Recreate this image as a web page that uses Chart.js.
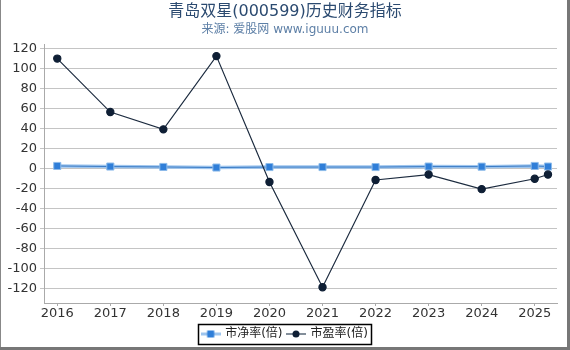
<!DOCTYPE html>
<html>
<head>
<meta charset="utf-8">
<script src="https://cdn.jsdelivr.net/npm/chart.js@4"></script>
<style>
  body { margin: 0; background: #fff; }
  #wrap { position: relative; width: 570px; height: 350px; }
  #wrap canvas { position: absolute; left: 0; top: 0; }
  .edge { position: absolute; background: #777; }
</style>
</head>
<body>
<div id="wrap">
  <canvas id="myChart" width="570" height="350"></canvas>
  <div class="edge" style="left:0;top:0;width:1px;height:350px;background:#888"></div>
  <div class="edge" style="right:0;top:0;width:3px;height:350px"></div>
  <div class="edge" style="left:0;bottom:0;width:570px;height:3px"></div>
</div>
<script>
// 数据
const years = [2016, 2017, 2018, 2019, 2020, 2021, 2022, 2023, 2024, 2025, 2025.25];
const pbValues = [2.6, 2.0, 1.6, 1.0, 1.5, 1.5, 1.5, 2.0, 1.9, 2.6, 2.0];
const peValues = [110, 56.5, 39.2, 112.5, -13.4, -118.7, -11.4, -6.0, -20.6, -10.2, -6.0];
const yTicks = [120, 100, 80, 60, 40, 20, 0, -20, -40, -60, -80, -100, -120];
const xTicks = [2016, 2017, 2018, 2019, 2020, 2021, 2022, 2023, 2024, 2025];

const FONT = '"DejaVu Sans", "Noto Sans CJK SC", sans-serif';

// 图例小图标: 线 + 标记
function legendIcon(type) {
    const c = document.createElement('canvas');
    c.width = 20; c.height = 12;
    const g = c.getContext('2d');
    if (type === 'pb') {
        g.strokeStyle = '#9ec5ee'; g.lineWidth = 3;
        g.beginPath(); g.moveTo(0, 6); g.lineTo(20, 6); g.stroke();
        g.fillStyle = '#2f7ed8';
        g.fillRect(6.5, 2.5, 7, 7);
    } else {
        g.strokeStyle = '#5a6878'; g.lineWidth = 1.5;
        g.beginPath(); g.moveTo(0, 6); g.lineTo(20, 6); g.stroke();
        g.fillStyle = '#0f1f35';
        g.beginPath(); g.arc(10, 6, 3.5, 0, Math.PI * 2); g.fill();
    }
    return c;
}

const legendBox = {
    id: 'legendBox',
    afterDraw(chart) {
        const boxes = chart.legend.legendHitBoxes;
        if (!boxes || !boxes.length) return;
        let l = Infinity, r = -Infinity, t = Infinity, b = -Infinity;
        boxes.forEach(h => {
            l = Math.min(l, h.left); r = Math.max(r, h.left + h.width);
            t = Math.min(t, h.top); b = Math.max(b, h.top + h.height);
        });
        const ctx = chart.ctx;
        ctx.save();
        ctx.strokeStyle = '#000';
        ctx.lineWidth = 1.5;
        ctx.strokeRect(Math.round(l - 4) + 0.5, Math.round(t - 4) + 0.5, Math.round(r - l + 7), Math.round(b - t + 8));
        ctx.restore();
    }
};

const ctx = document.getElementById('myChart').getContext('2d');
const myChart = new Chart(ctx, {
    type: 'line',
    data: {
        datasets: [
            {
                label: 'pb-halo',
                data: years.map((x, i) => ({ x: x, y: pbValues[i] })),
                borderColor: '#9ec5ee',
                borderWidth: 3.5,
                pointRadius: 0,
                order: 3
            },
            {
                label: '市净率(倍)',
                data: years.map((x, i) => ({ x: x, y: pbValues[i] })),
                borderColor: '#3b7cc6',
                borderWidth: 1,
                pointStyle: 'rect',
                pointRadius: 5,
                pointBackgroundColor: '#2f7ed8',
                pointBorderColor: '#8dbbea',
                pointBorderWidth: 1,
                order: 2
            },
            {
                label: '市盈率(倍)',
                data: years.map((x, i) => ({ x: x, y: peValues[i] })),
                borderColor: '#1c2b3f',
                borderWidth: 1.2,
                pointStyle: 'circle',
                pointRadius: 3.6,
                pointBackgroundColor: '#0f1f35',
                pointBorderColor: '#0f1f35',
                order: 1
            }
        ]
    },
    options: {
        responsive: false,
        animation: false,
        layout: { padding: { left: 0, right: 0, top: 0, bottom: 0 } },
        plugins: {
            title: {
                display: true,
                text: '青岛双星(000599)历史财务指标',
                color: '#2b4a70',
                font: { family: FONT, size: 16, weight: 'normal', lineHeight: 1.2 },
                padding: { top: 2, bottom: 0 }
            },
            subtitle: {
                display: true,
                text: '来源: 爱股网 www.iguuu.com',
                color: '#5d7fa6',
                font: { family: FONT, size: 12, weight: 'normal', lineHeight: 1.2 },
                padding: { top: 1, bottom: 8 }
            },
            legend: {
                position: 'bottom',
                labels: {
                    usePointStyle: true,
                    pointStyleWidth: 17,
                    color: '#222',
                    font: { family: FONT, size: 12 },
                    padding: 5,
                    generateLabels: chart => [
                        { text: '市净率(倍)', pointStyle: legendIcon('pb'), datasetIndex: 1, fontColor: '#222' },
                        { text: '市盈率(倍)', pointStyle: legendIcon('pe'), datasetIndex: 2, fontColor: '#222' }
                    ]
                }
            },
            tooltip: { enabled: false }
        },
        scales: {
            x: {
                type: 'linear',
                min: 2015.75,
                max: 2025.42,
                afterBuildTicks: scale => { scale.ticks = xTicks.map(v => ({ value: v })); },
                afterFit: scale => { scale.height = 20; },
                grid: { drawOnChartArea: false, drawTicks: true, tickLength: 3, color: '#aaa' },
                border: { color: '#aaa' },
                ticks: {
                    color: '#333',
                    font: { family: FONT, size: 13 },
                    padding: 0,
                    maxRotation: 0,
                    callback: v => String(v)
                }
            },
            y: {
                min: -134.5,
                max: 124,
                afterBuildTicks: scale => { scale.ticks = yTicks.map(v => ({ value: v })); },
                afterFit: scale => { scale.width = 44; },
                grid: { color: '#c4c4c4', tickLength: 4, drawTicks: true },
                border: { color: '#aaa' },
                ticks: {
                    color: '#333',
                    font: { family: FONT, size: 13 },
                    padding: 3
                }
            },
            // 右侧留白
            yRight: {
                position: 'right',
                display: true,
                min: -134.5,
                max: 124,
                afterFit: scale => { scale.width = 13; },
                grid: { display: false },
                border: { display: false },
                ticks: { display: false }
            }
        }
    },
    plugins: [legendBox]
});
</script>
</body>
</html>
